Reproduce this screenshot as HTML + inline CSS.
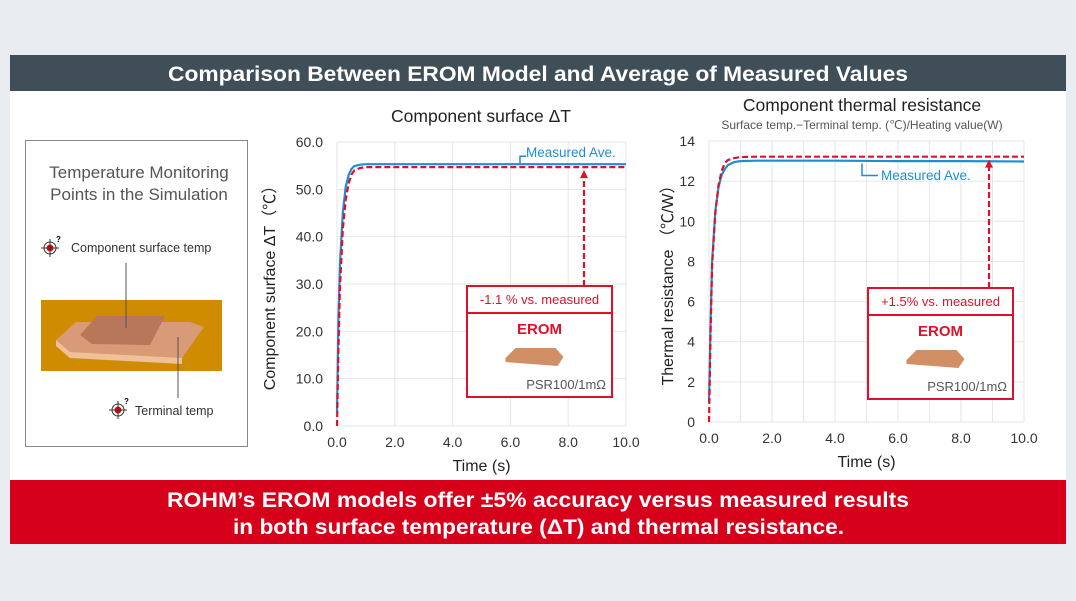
<!DOCTYPE html>
<html><head><meta charset="utf-8"><style>
html,body{margin:0;padding:0;background:#e9edf2;}
svg{display:block;font-family:"Liberation Sans",sans-serif;}
</style></head><body>
<svg id="s" width="1076" height="601" viewBox="0 0 1076 601">
<rect x="10" y="55" width="1056" height="425" fill="#ffffff"/>
<rect x="10" y="55" width="1056" height="36" fill="#404f57"/>
<text x="168" y="81" textLength="740" lengthAdjust="spacingAndGlyphs" fill="#fff" font-size="21" font-weight="bold">Comparison Between EROM Model and Average of Measured Values</text>
<rect x="10" y="480" width="1056" height="64" fill="#d7001a"/>
<text x="167" y="507" textLength="742" lengthAdjust="spacingAndGlyphs" fill="#fff" font-size="21" font-weight="bold">ROHM’s EROM models offer ±5% accuracy versus measured results</text>
<text x="233" y="534" textLength="611" lengthAdjust="spacingAndGlyphs" fill="#fff" font-size="21" font-weight="bold">in both surface temperature (ΔT) and thermal resistance.</text>

<g>
<rect x="25.5" y="140.5" width="222" height="306" fill="#fff" stroke="#888"/>
<text x="139" y="178" text-anchor="middle" font-size="17" fill="#555">Temperature Monitoring</text>
<text x="139" y="200" text-anchor="middle" font-size="17" fill="#555">Points in the Simulation</text>
<g><circle cx="50" cy="248" r="6" fill="none" stroke="#333"/><circle cx="50" cy="248" r="3.5" fill="#e00"/><line x1="41" y1="248" x2="59" y2="248" stroke="#333"/><line x1="50" y1="239" x2="50" y2="257" stroke="#333"/><text x="56" y="242" font-size="8" font-weight="bold">?</text></g>
<text x="71" y="252" font-size="12.5" fill="#333">Component surface temp</text>
<g><circle cx="118" cy="410" r="6" fill="none" stroke="#333"/><circle cx="118" cy="410" r="3.5" fill="#e00"/><line x1="109" y1="410" x2="127" y2="410" stroke="#333"/><line x1="118" y1="401" x2="118" y2="419" stroke="#333"/><text x="124" y="404" font-size="8" font-weight="bold">?</text></g>
<text x="135" y="415" font-size="12.5" fill="#333">Terminal temp</text>
<rect x="41" y="300" width="181" height="71" fill="#d08c00"/>
<g>
<polygon points="56,340 76,322 190,322 204,327 182,358 70,352" fill="#d99a78"/>
<polygon points="80,335 97,316 165,316 150,345 92,344" fill="#b8775a"/>
<polygon points="56,340 70,352 182,358 182,364 70,358 56,346" fill="#f0c098"/>
<line x1="126" y1="263" x2="126" y2="328" stroke="#555"/>
<line x1="178" y1="337" x2="178" y2="398" stroke="#555"/>
</g>
</g>

<g id="c1"></g>
<g id="c2"></g>
</svg>
<script>
const times=[0,0.05,0.1,0.2,0.3,0.4,0.5,0.6,0.8,1.0,1.5,2,4,6,8,10];
const surfMeasured=[3,22,34,45,50.5,53,54.3,54.9,55.2,55.3,55.3,55.3,55.3,55.3,55.3,55.3];
const surfErom=[0,16,29,41.5,47.8,51.2,53.1,54.0,54.5,54.7,54.7,54.7,54.7,54.7,54.7,54.7];
const resMeasured=[1,5,8,10.5,11.7,12.3,12.6,12.8,12.95,13.0,13.02,13.02,13.02,13.0,13.0,12.98];
const resErom=[0,4.5,7.8,10.4,11.8,12.5,12.9,13.05,13.15,13.2,13.22,13.22,13.22,13.22,13.22,13.22];
const xTicks=[0,2,4,6,8,10];
const surfYTicks=[0,10,20,30,40,50,60];
const resYTicks=[0,2,4,6,8,10,12,14];
const NS="http://www.w3.org/2000/svg";
function mk(p,t,a,txt){const e=document.createElementNS(NS,t);for(const k in a)e.setAttribute(k,a[k]);if(txt!==undefined)e.textContent=txt;p.appendChild(e);return e;}
function chart(g,o){
 const X=v=>o.x0+(v/10)*(o.x1-o.x0), Y=v=>o.y1-(v/o.ymax)*(o.y1-o.y0);
 for(let v=0;v<=10;v+=o.xstep){const l=mk(g,'line',{x1:X(v),x2:X(v),y1:o.y0,y2:o.y1,stroke:'#e6e6e6'});
 
 }
 o.yt.forEach(v=>{const l=mk(g,'line',{x1:o.x0,x2:o.x1,y1:Y(v),y2:Y(v),stroke:'#e6e6e6'});
 
 
 const t=mk(g,'text',{x:o.x0-14,y:Y(v)+5,'text-anchor':'end','font-size':14,fill:'#333'},o.fmt(v));
 
 });
 xTicks.forEach(v=>{const t=mk(g,'text',{x:X(v),y:o.y1+21,'text-anchor':'middle','font-size':14,fill:'#333'},v.toFixed(1));
 
 });
 const xt=mk(g,'text',{x:(o.x0+o.x1)/2,y:o.y1+45,'text-anchor':'middle','font-size':16,fill:'#222'},'Time (s)');
 
 
 const yc=(o.y0+o.y1)/2, yx=o.yx;
 const yt=mk(g,'text',{x:yx,y:yc,'text-anchor':'middle','font-size':16,fill:'#222',transform:`rotate(-90 ${yx} ${yc})`},o.ytitle);
 
 
 const path=(vals)=>vals.map((v,i)=>(i?'L':'M')+X(times[i]).toFixed(1)+','+Y(v).toFixed(1)).join(' ');
 const m=mk(g,'path',{d:path(o.meas),fill:'none',stroke:'#1a8fd6','stroke-width':2.2});
 
 
 const e=mk(g,'path',{d:path(o.erom),fill:'none',stroke:'#e0102a','stroke-width':2.2,'stroke-dasharray':'6 3'});
 
 
 const ya=Y(o.erom[o.erom.length-1])+3;
 const ar=mk(g,'line',{x1:o.ax,x2:o.ax,y1:o.by,y2:ya+6,stroke:'#e0102a','stroke-width':2.2,'stroke-dasharray':'6 3'});
 
 
 mk(g,'polygon',{points:`${o.ax-4},${ya+8} ${o.ax+4},${ya+8} ${o.ax},${ya}`,fill:'#e0102a'});
 const ym=Y(o.meas[o.meas.length-1]);
 const cl=mk(g,'path',{d:o.call(ym),fill:'none',stroke:'#1a8fd6','stroke-width':1.5});
 
 
 const ct=mk(g,'text',{x:o.ctx,y:o.cty,'font-size':13.5,fill:'#1a8fd6'},'Measured Ave.');
 
 
 const b=o.box;
 const bx=mk(g,'rect',{x:b[0],y:b[1],width:b[2],height:b[3],fill:'#fff',stroke:'#e0102a','stroke-width':2});
 
 
 mk(g,'line',{x1:b[0],x2:b[0]+b[2],y1:b[1]+27,y2:b[1]+27,stroke:'#e0102a','stroke-width':2});
 const t1=mk(g,'text',{x:b[0]+b[2]/2,y:b[1]+18,'text-anchor':'middle','font-size':13,fill:'#e0102a'},o.pct);
 
 
 const t2=mk(g,'text',{x:b[0]+b[2]/2,y:b[1]+48,'text-anchor':'middle','font-size':15,'font-weight':'bold',fill:'#e0102a'},'EROM');
 
 
 const cx=b[0]+b[2]/2-6, cy=b[1]+68;
 const r=mk(g,'polygon',{points:`${cx-28},${cy+4} ${cx-18},${cy-6} ${cx+22},${cy-6} ${cx+30},${cy+3} ${cx+24},${cy+12} ${cx-28},${cy+8}`,fill:'#d28f66'});
 
 
 const t3=mk(g,'text',{x:b[0]+b[2]-6,y:b[1]+b[3]-8,'text-anchor':'end','font-size':13,fill:'#555'},'PSR100/1mΩ');
 
 
}
const c1=document.getElementById('c1');


const c2=document.getElementById('c2');


mk(c1,'text',{x:481,y:122,'text-anchor':'middle','font-size':17.5,fill:'#222'},'Component surface ΔT');
mk(c2,'text',{x:862,y:111,'text-anchor':'middle','font-size':17.5,fill:'#222'},'Component thermal resistance');
mk(c2,'text',{x:862,y:129,'text-anchor':'middle','font-size':12,fill:'#555'},'Surface temp.−Terminal temp. (℃)/Heating value(W)');
chart(c1,{x0:337,x1:626,y0:142,y1:426,ymax:60,xstep:2,yt:surfYTicks,fmt:v=>v.toFixed(1),yx:275,ytitle:'Component surface ΔT（℃）',
 meas:surfMeasured,erom:surfErom,ax:584,by:286,box:[467,286,145,111],pct:'-1.1 % vs. measured',
 call:ym=>`M520,${ym} L520,${ym-8} L526,${ym-8}`,ctx:526,cty:157});
chart(c2,{x0:709,x1:1024,y0:141,y1:422,ymax:14,xstep:1,yt:resYTicks,fmt:v=>String(v),yx:673,ytitle:'Thermal resistance （℃/W）',
 meas:resMeasured,erom:resErom,ax:989,by:288,box:[868,288,145,111],pct:'+1.5% vs. measured',
 call:ym=>`M862,${ym+2} L862,${ym+14} L878,${ym+14}`,ctx:881,cty:180});
</script>
</body></html>
